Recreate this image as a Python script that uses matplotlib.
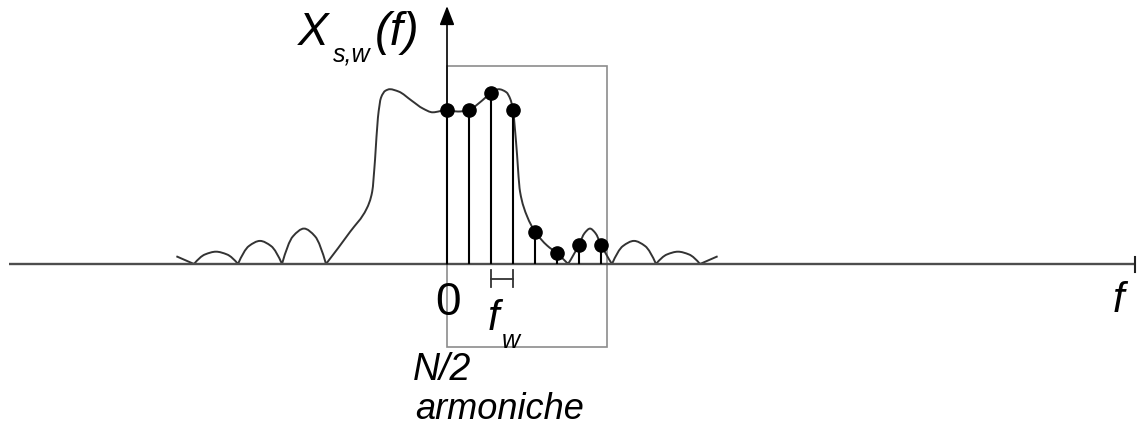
import numpy as np
import matplotlib
matplotlib.use("Agg")
import matplotlib.pyplot as plt
from matplotlib.path import Path
from matplotlib.patches import PathPatch, Rectangle

plt.rcParams['font.family'] = ['Liberation Sans', 'DejaVu Sans']

# sampled harmonics (index k, amplitude)
harm_k = [0, 1, 2, 3, 4, 5, 6, 7]
harm_amp = [1.00, 1.00, 1.11, 1.00, 0.21, 0.07, 0.125, 0.125]

# windowed spectrum |X_s,w(f)|, knots in units of f_w; zeros split the lobes
curve_x = [-12.3, -11.5,
           -11.0, -10.5, -10.0, -9.5,
           -9.0, -8.5, -8.0, -7.5,
           -7.0, -6.5, -6.0, -5.5,
           -4.4, -3.65, -3.4, -3.27, -3.14, -3.0, -2.8, -2.6, -2.2, -1.6,
           -1.1, -0.65, 0.0, 0.5, 1.0, 1.5, 2.0, 2.35, 2.7, 2.88, 3.0, 3.14,
           3.32, 3.64, 4.0, 4.55, 5.0, 5.5,
           6.0, 6.25, 6.5, 6.75, 7.0, 7.5,
           8.0, 8.5, 9.0, 9.5,
           10.0, 10.5, 11.0, 11.5,
           12.3]
curve_y = [0.05, 0.0,
           0.062, 0.08, 0.062, 0.0,
           0.117, 0.15, 0.117, 0.0,
           0.18, 0.23, 0.18, 0.0,
           0.21, 0.36, 0.47, 0.68, 0.95, 1.08, 1.125, 1.135, 1.12, 1.06,
           1.01, 0.985, 1.00, 0.99, 1.00, 1.05, 1.11, 1.135, 1.115, 1.07, 1.00, 0.79,
           0.47, 0.31, 0.21, 0.12, 0.07, 0.0,
           0.125, 0.2, 0.23, 0.2, 0.125, 0.0,
           0.117, 0.15, 0.117, 0.0,
           0.062, 0.08, 0.062, 0.0,
           0.05]


def slopes(x, y):
    # shape preserving tangents (Fritsch-Butland)
    h = np.diff(x)
    d = np.diff(y) / h
    n = len(x)
    m = np.zeros(n)
    if n == 2:
        m[:] = d[0]
        return m
    for i in range(1, n - 1):
        if d[i - 1] * d[i] > 0:
            w1 = 2 * h[i] + h[i - 1]
            w2 = h[i] + 2 * h[i - 1]
            m[i] = (w1 + w2) / (w1 / d[i - 1] + w2 / d[i])
    for e, (h0, h1, d0, d1) in ((0, (h[0], h[1], d[0], d[1])),
                                (n - 1, (h[-1], h[-2], d[-1], d[-2]))):
        v = ((2 * h0 + h1) * d0 - h0 * d1) / (h0 + h1)
        if np.sign(v) != np.sign(d0):
            v = 0
        elif np.sign(d0) != np.sign(d1) and abs(v) > 3 * abs(d0):
            v = 3 * d0
        m[e] = v
    return m


def lobe_path(x, y):
    x = np.asarray(x, float)
    y = np.asarray(y, float)
    cuts = sorted(set([0, len(x) - 1] + [i for i in range(len(x)) if y[i] == 0]))
    verts, codes = [], []
    for a, b in zip(cuts[:-1], cuts[1:]):
        sx, sy = x[a:b + 1], y[a:b + 1]
        m = slopes(sx, sy)
        verts.append((sx[0], sy[0]))
        codes.append(Path.MOVETO)
        for i in range(len(sx) - 1):
            h = sx[i + 1] - sx[i]
            verts += [(sx[i] + h / 3, sy[i] + m[i] * h / 3),
                      (sx[i + 1] - h / 3, sy[i + 1] - m[i + 1] * h / 3),
                      (sx[i + 1], sy[i + 1])]
            codes += [Path.CURVE4] * 3
    return Path(verts, codes)


fig = plt.figure(figsize=(11.37, 4.27), dpi=100)
ax = fig.add_axes([0, 0, 1, 1])
ax.set_xlim(-447 / 22, 690 / 22)
ax.set_ylim(-162 / 154, 265 / 154)
ax.axis('off')

# frequency axis with end tick
ax.plot([-19.9, 31.27], [0, 0], color='#4d4d4d', lw=1.7, solid_capstyle='butt')
ax.plot([31.27, 31.27], [-0.052, 0.045], color='#222222', lw=1.5)

# N/2 window
ax.add_patch(Rectangle((0, -0.539), 7.27, 1.825, fill=False,
                       edgecolor='#8c8c8c', lw=1.2))

# vertical axis with arrow
ax.annotate('', xy=(0, 1.675), xytext=(0, 0),
            arrowprops=dict(arrowstyle='-|>,head_length=1.15,head_width=0.45',
                            mutation_scale=10, color='black', lw=1.2,
                            shrinkA=0, shrinkB=0))

ax.add_patch(PathPatch(lobe_path(curve_x, curve_y), fill=False,
                       edgecolor='#333333', lw=1.4))

markerline, stemlines, baseline = ax.stem(harm_k, harm_amp, linefmt='k-',
                                          markerfmt='ko', basefmt=' ')
markerline.set_markersize(9.5)
stemlines.set_linewidth(1.5)

# f_w spacing bracket
ax.plot([2, 3], [-0.097, -0.097], color='#333333', lw=1.3)
ax.plot([2, 2], [-0.039, -0.149], color='#333333', lw=1.3)
ax.plot([3, 3], [-0.039, -0.149], color='#333333', lw=1.3)

ax.text(-6.77, 1.43, 'X', fontsize=33, style='italic', va='baseline')
ax.text(-5.18, 1.32, 's,w', fontsize=18, style='italic', va='baseline')
ax.text(-3.3, 1.43, '(f)', fontsize=34, style='italic', va='baseline')

ax.text(0.05, -0.325, '0', fontsize=33, ha='center', va='baseline')
ax.text(1.86, -0.42, 'f', fontsize=30, style='italic', va='baseline')
ax.text(2.5, -0.54, 'w', fontsize=18, style='italic', va='baseline')
ax.text(30.27, -0.305, 'f', fontsize=30, style='italic', va='baseline')

ax.text(-1.55, -0.747, 'N/2', fontsize=27, style='italic', va='baseline')
ax.text(-1.45, -1.0, 'armoniche', fontsize=26, style='italic', va='baseline')

plt.savefig('out.png', dpi=100)
plt.close()
